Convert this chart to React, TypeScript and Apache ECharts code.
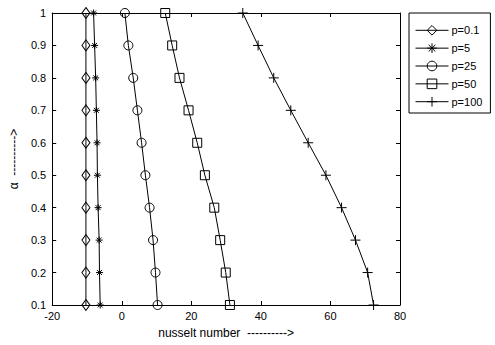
import React, { useEffect, useRef } from "react";
import * as echarts from "echarts";

const alpha = [1, 0.9, 0.8, 0.7, 0.6, 0.5, 0.4, 0.3, 0.2, 0.1];
const p01 = [-10.3, -10.3, -10.3, -10.3, -10.3, -10.3, -10.3, -10.3, -10.3, -10.3];
const p5 = [-8.1, -7.8, -7.5, -7.3, -7.1, -7.0, -6.8, -6.5, -6.4, -6.2];
const p25 = [0.9, 1.9, 3.3, 4.5, 5.7, 6.8, 8.0, 9.0, 9.7, 10.3];
const p50 = [12.5, 14.5, 16.6, 19.2, 21.7, 23.9, 26.6, 28.3, 29.9, 31.1];
const p100 = [34.8, 39.2, 43.7, 48.6, 53.6, 58.7, 63.2, 67.2, 70.7, 72.4];
const seriesNames = ["p=0.1", "p=5", "p=25", "p=50", "p=100"];
const xTicks = { min: -20, max: 80, interval: 20 };
const yTicks = { min: 0.1, max: 1, interval: 0.1 };

const STAR = "path://M0,-10L0,10M-10,0L10,0M-7,-7L7,7M-7,7L7,-7";
const PLUS = "path://M0,-10L0,10M-10,0L10,0";

const FONT = "Liberation Sans";

export default function App() {
  const ref = useRef<HTMLDivElement>(null);
  useEffect(() => {
    if (!ref.current) return;
    const chart = echarts.init(ref.current, undefined, { renderer: "svg" });
    const sets = [p01, p5, p25, p50, p100];
    const symbols: any[] = ["diamond", STAR, "circle", "rect", PLUS];
    const sizes: any[] = [[8, 11], 7, 9, 9, 10];
    const series = sets.map((vals, i) => ({
      name: seriesNames[i],
      type: "line",
      data: vals.map((v, j) => [v, alpha[j]]),
      symbol: symbols[i],
      symbolSize: sizes[i],
      showAllSymbol: true,
      lineStyle: { color: "#000", width: 1 },
      itemStyle: { color: "none", borderColor: "#000", borderWidth: 1 },
      emphasis: { disabled: true },
      z: 3,
    }));
    const axisCommon = {
      type: "value" as const,
      axisLine: { show: true, onZero: false, lineStyle: { color: "#000", width: 1 } },
      axisTick: { show: true, inside: true, length: 4, lineStyle: { color: "#000" } },
      splitLine: { show: false },
    };
    chart.setOption({
      animation: false,
      textStyle: { fontFamily: FONT },
      grid: { left: 45, right: 95, top: 13, bottom: 40 },
      legend: {
        orient: "vertical",
        left: 409,
        top: 13,
        width: 85,
        padding: [10, 8, 4, 6],
        itemWidth: 33,
        itemHeight: 12,
        itemGap: 3.25,
        backgroundColor: "#fff",
        borderColor: "#000",
        borderWidth: 1,
        borderRadius: 0,
        lineStyle: { width: 1, color: "#000" },
        itemStyle: { borderWidth: 1, borderColor: "#000", color: "none" },
        textStyle: { fontFamily: FONT, fontSize: 11, color: "#000", padding: [0, 0, 0, -2] },
        data: seriesNames,
      },
      xAxis: [
        {
          ...axisCommon,
          position: "bottom",
          ...xTicks,
          axisLabel: { color: "#000", fontSize: 11, fontFamily: FONT, margin: 5 },
          name: "nusselt number  ---------->",
          nameLocation: "middle",
          nameGap: 22,
          nameTextStyle: { color: "#000", fontSize: 12, fontFamily: FONT },
        },
        {
          ...axisCommon,
          position: "top",
          ...xTicks,
          axisLabel: { show: false },
        },
      ],
      yAxis: [
        {
          ...axisCommon,
          position: "left",
          ...yTicks,
          axisLabel: { color: "#000", fontSize: 11, fontFamily: FONT, margin: 6 },
          name: "α  ---------->",
          nameLocation: "middle",
          nameRotate: 90,
          nameGap: 32,
          nameTextStyle: { color: "#000", fontSize: 12, fontFamily: FONT },
        },
        {
          ...axisCommon,
          position: "right",
          ...yTicks,
          axisLabel: { show: false },
        },
      ],
      series,
    });
    return () => chart.dispose();
  }, []);
  return <div ref={ref} style={{ width: 495, height: 345, position: "absolute", left: 0, top: 0 }} />;
}
